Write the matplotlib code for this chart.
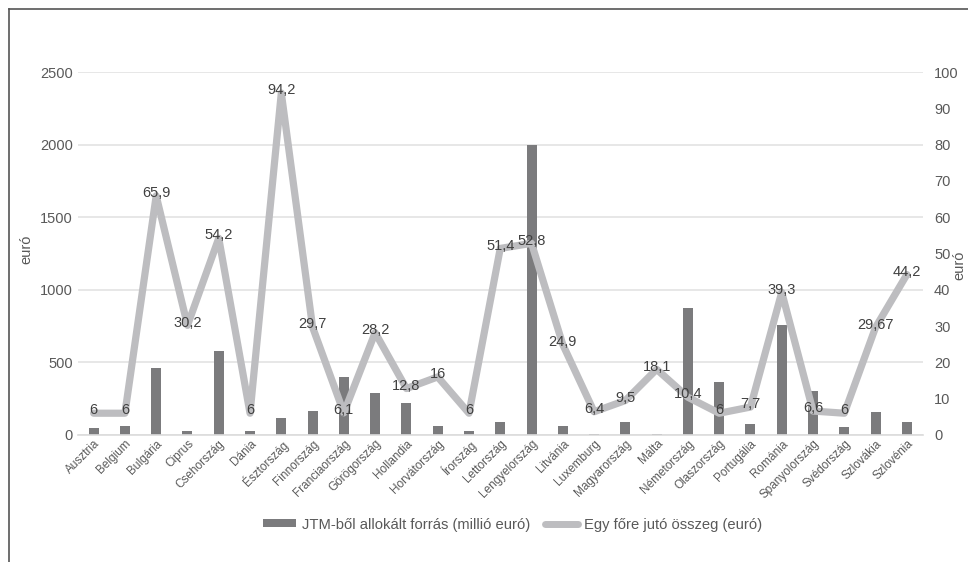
import matplotlib
matplotlib.use("Agg")
import matplotlib.pyplot as plt
from matplotlib.lines import Line2D
from matplotlib.patches import Patch

plt.rcParams['font.family'] = ['Liberation Sans', 'DejaVu Sans']

countries = ["Ausztria", "Belgium", "Bulgária", "Ciprus", "Csehország", "Dánia",
             "Észtország", "Finnország", "Franciaország", "Görögország", "Hollandia",
             "Horvátország", "Írország", "Lettország", "Lengyelország", "Litvánia",
             "Luxemburg", "Magyarország", "Málta", "Németország", "Olaszország",
             "Portugália", "Románia", "Spanyolország", "Svédország", "Szlovákia",
             "Szlovénia"]
jtm_alloc = [50, 65, 458, 30, 581, 30, 120, 162, 402, 292, 217, 64, 30, 92, 2000,
             64, 5, 92, 8, 877, 362, 78, 755, 305, 55, 160, 92]
per_capita = [6, 6, 65.9, 30.2, 54.2, 6, 94.2, 29.7, 6.1, 28.2, 12.8, 16, 6, 51.4,
              52.8, 24.9, 6.4, 9.5, 18.1, 10.4, 6, 7.7, 39.3, 6.6, 6, 29.67, 44.2]
per_capita_labels = ["6", "6", "65,9", "30,2", "54,2", "6", "94,2", "29,7", "6,1",
                     "28,2", "12,8", "16", "6", "51,4", "52,8", "24,9", "6,4", "9,5",
                     "18,1", "10,4", "6", "7,7", "39,3", "6,6", "6", "29,67", "44,2"]
left_ticks = [0, 500, 1000, 1500, 2000, 2500]
right_ticks = [0, 10, 20, 30, 40, 50, 60, 70, 80, 90, 100]
bar_name = "JTM-ből allokált forrás (millió euró)"
line_name = "Egy főre jutó összeg (euró)"

W, H = 968, 562
fig = plt.figure(figsize=(W / 100, H / 100), dpi=100)
ax = fig.add_axes([78 / W, 1 - 435 / H, (922.5 - 78) / W, (435 - 72) / H])
ax2 = ax.twinx()

bar_color = "#7b7b7d"
line_color = "#bdbdc0"
text_color = "#595959"

x = list(range(len(countries)))
ax.bar(x, jtm_alloc, width=0.32, color=bar_color, zorder=2)
ax.set_xlim(-0.5, len(countries) - 0.5)
ax.set_ylim(0, 2500)
ax.set_yticks(left_ticks)
ax.grid(axis='y', color="#e3e3e3", linewidth=1.2, zorder=0)
ax.set_axisbelow(True)
for s in ["top", "right", "left"]:
    ax.spines[s].set_visible(False)
ax.spines["bottom"].set_color("#dcdcdc")
ax.spines["bottom"].set_linewidth(1.2)
ax.tick_params(axis='y', length=0, labelsize=10.5, labelcolor=text_color, pad=3.8)
ax.tick_params(axis='x', length=0, pad=2)
ax.set_xticks(x)
ax.set_xticklabels(countries, rotation=45, ha='right', va='top',
                   rotation_mode='anchor', fontsize=8.5, color=text_color)
ax.set_ylabel("euró", fontsize=10.5, color=text_color, va='center', ha='center')
ax.yaxis.set_label_coords((26 - 78) / 844.5, (435 - 249) / 363)

ax2.plot(x, per_capita, color=line_color, linewidth=5.2, solid_joinstyle='round',
         solid_capstyle='round', zorder=3)
ax2.set_ylim(0, 100)
ax2.set_yticks(right_ticks)
for s in ["top", "right", "left", "bottom"]:
    ax2.spines[s].set_visible(False)
ax2.tick_params(axis='y', length=0, labelsize=10.5, labelcolor=text_color, pad=8.3)
ax2.set_ylabel("euró", fontsize=10.5, color=text_color, rotation=90,
               va='center', ha='center')
ax2.yaxis.set_label_coords((959 - 78) / 844.5, (435 - 265) / 363)

for xi, v, lab in zip(x, per_capita, per_capita_labels):
    ax2.annotate(lab, (xi, v), xytext=(0, 2), textcoords='offset points',
                 ha='center', va='center', fontsize=10.5, color="#404040", zorder=5)

handles = [Patch(facecolor=bar_color, edgecolor='none'),
           Line2D([0], [0], color=line_color, linewidth=5, solid_capstyle='round')]
fig.legend(handles, [bar_name, line_name], loc='center',
           bbox_to_anchor=(513 / W, 1 - 524.5 / H),
           ncol=2, frameon=False, fontsize=10.6, labelcolor=text_color,
           handlelength=2.2, handleheight=0.5, columnspacing=1.0, handletextpad=0.45)

# outer frame (top and left edges visible)
fig.add_artist(Line2D([9 / W, 1.0], [1 - 9 / H, 1 - 9 / H], color="#555555",
                      linewidth=1.2, transform=fig.transFigure))
fig.add_artist(Line2D([9 / W, 9 / W], [0.0, 1 - 9 / H], color="#555555",
                      linewidth=1.2, transform=fig.transFigure))

fig.savefig("out.png", dpi=100)
